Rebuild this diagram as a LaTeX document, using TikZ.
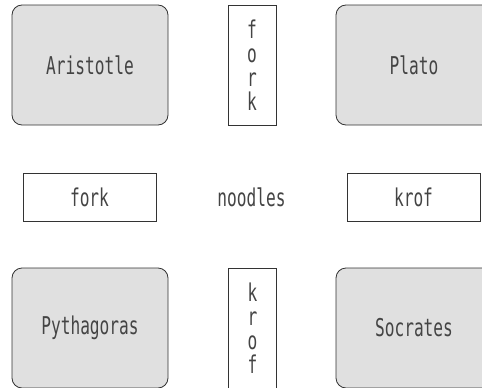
\documentclass[tikz,border=0pt]{standalone}
\usepackage{fontspec}
\newfontfamily\diagfont[FakeStretch=0.66]{DejaVu Sans Mono}
\definecolor{boxfill}{HTML}{E0E0E0}
\definecolor{txt}{HTML}{444444}
\definecolor{edge}{HTML}{333333}
\begin{document}
\begin{tikzpicture}[x=1pt,y=-1pt,
  every node/.style={inner sep=0pt, text=txt, font={\diagfont\fontsize{24.5}{24}\selectfont}},
  person/.style={draw=edge, line width=0.8pt, fill=boxfill, rounded corners=10pt,
    minimum width=156pt, minimum height=120pt},
  vbox/.style={draw=edge, line width=0.8pt, fill=white, align=center,
    minimum width=48pt, minimum height=120pt},
  hbox/.style={draw=edge, line width=0.8pt, fill=white,
    minimum width=133pt, minimum height=48pt}]
\useasboundingbox (0,0) rectangle (482,388);
\node[person] (aristotle) at (90,65) {Aristotle};
\node[vbox] (forkv) at (252,65) {f\\o\\r\\k};
\node[person] (plato) at (414,65) {Plato};
\node[hbox] (forkh) at (89.5,197) {fork};
\node (noodles) at (251.5,197) {noodles};
\node[hbox] (krofh) at (413.5,197) {krof};
\node[person] (pythagoras) at (90,328) {Pythagoras};
\node[vbox] (krofv) at (252.5,328) {k\\r\\o\\f};
\node[person] (socrates) at (414,328) {Socrates};
\end{tikzpicture}
\end{document}
